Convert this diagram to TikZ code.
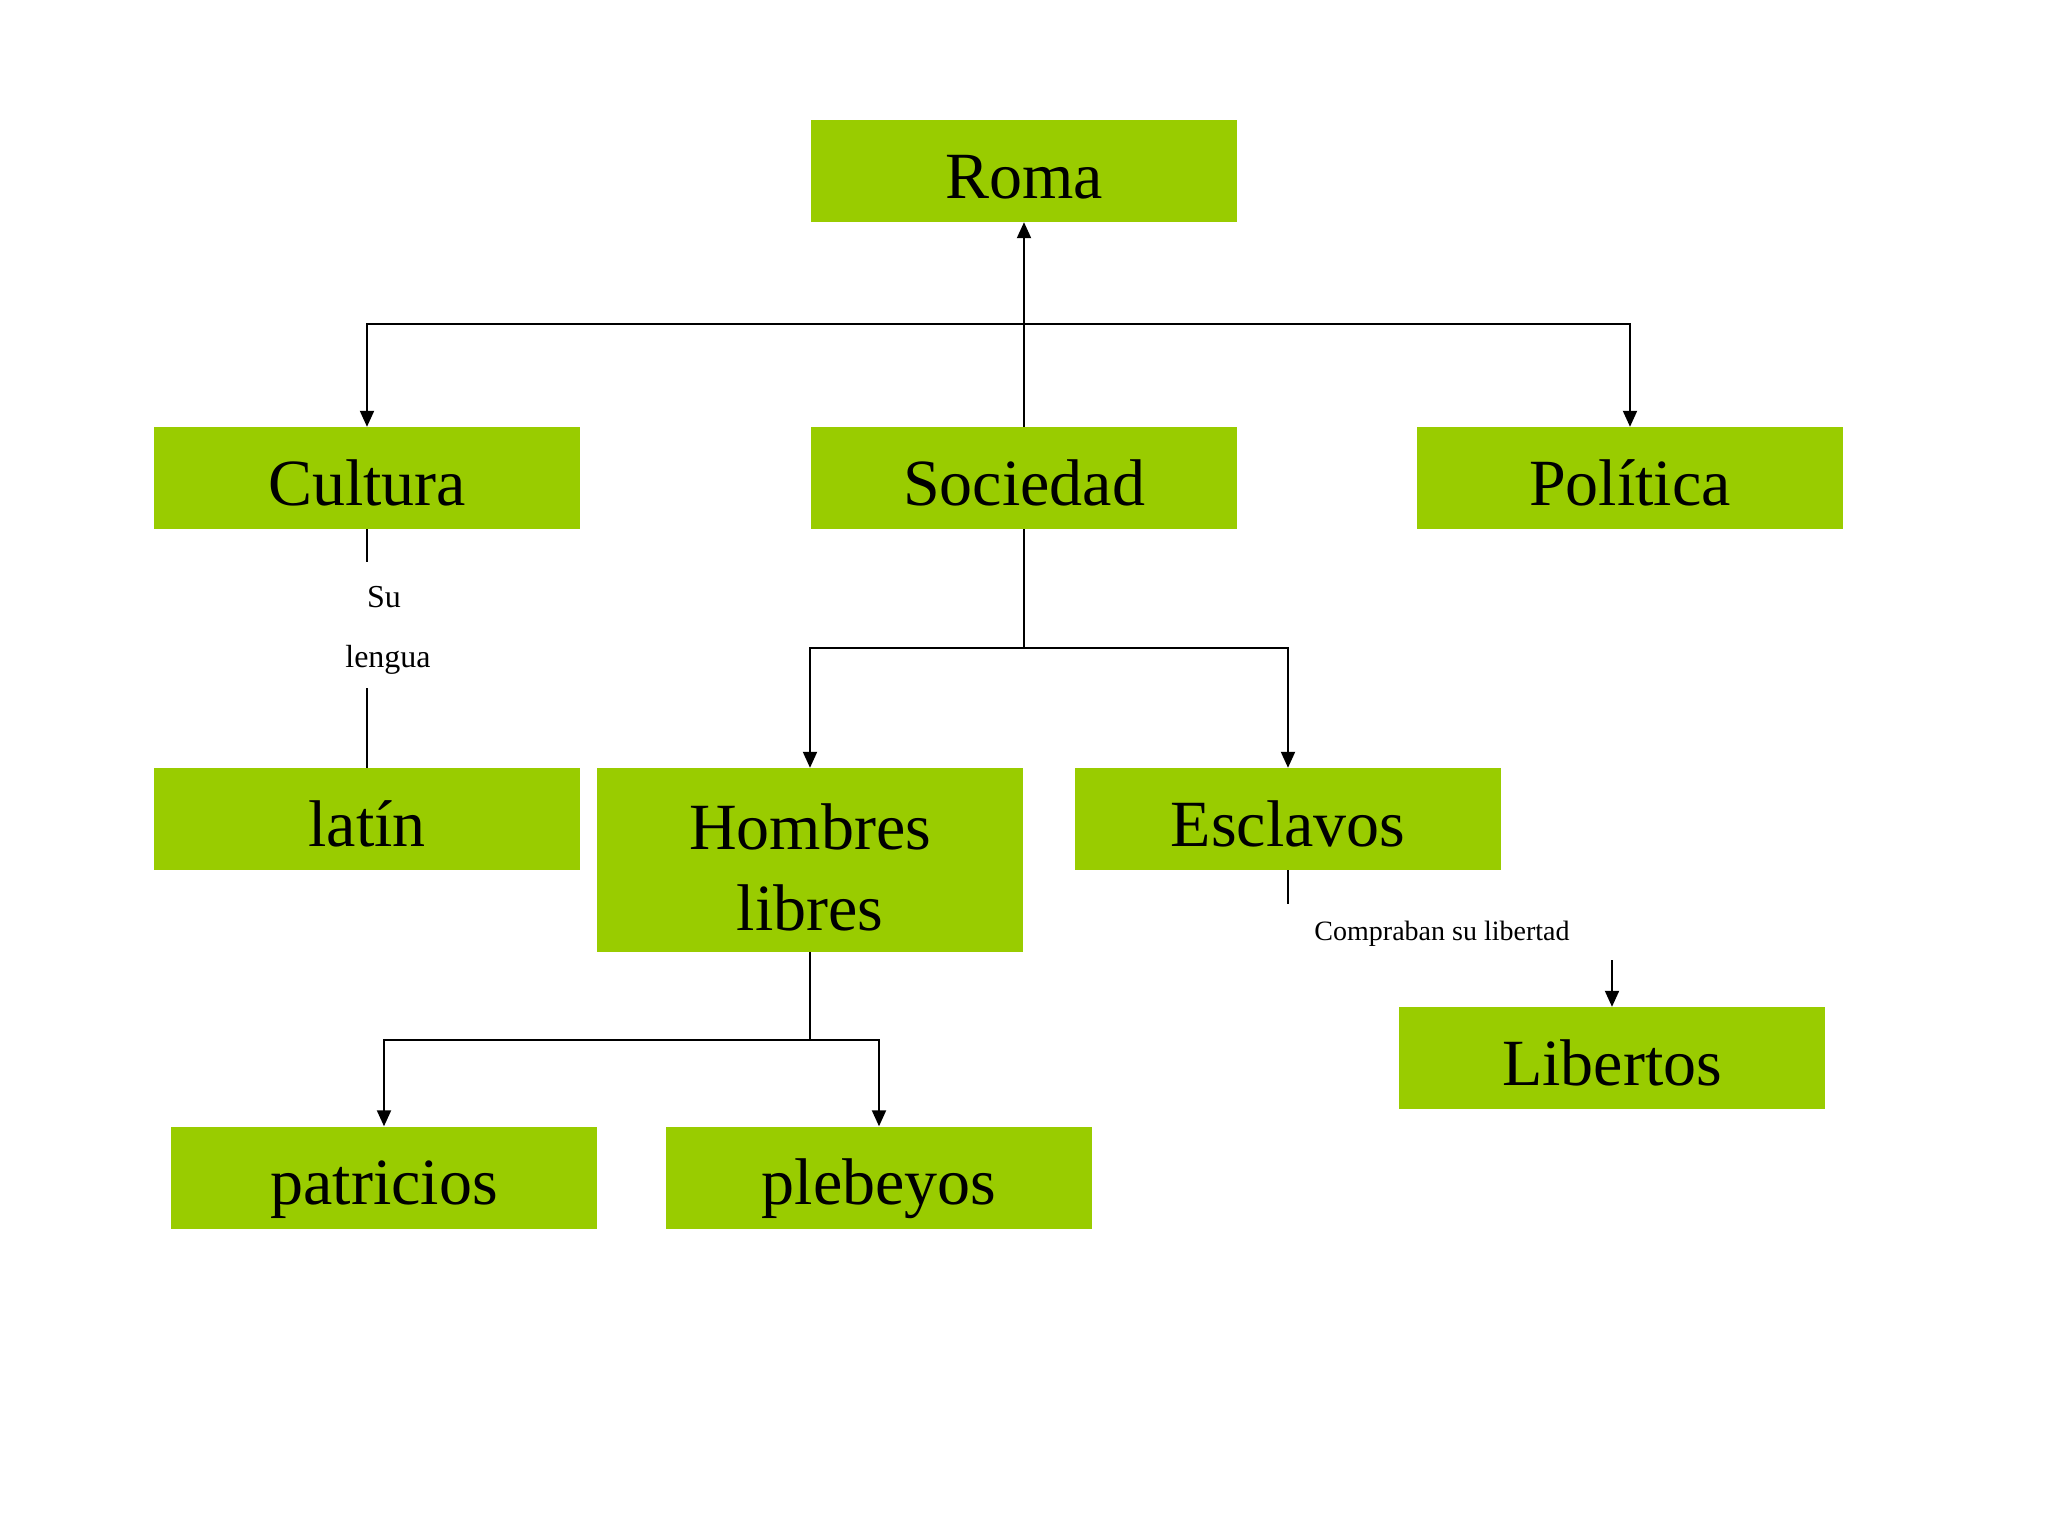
\documentclass[tikz,border=0pt]{standalone}
\usepackage{fontspec}
\setmainfont{Liberation Serif}
\usetikzlibrary{arrows.meta}
\definecolor{boxgreen}{HTML}{99CC00}
\begin{document}
\begin{tikzpicture}[x=1pt,y=-1pt,
  box/.style={fill=boxgreen, draw=none, minimum width=426pt, minimum height=102pt, inner sep=0pt,
    font=\fontsize{66}{81}\selectfont, text height=66pt, text depth=12pt},
  tallbox/.style={fill=boxgreen, draw=none, minimum width=426pt, minimum height=184pt, inner sep=0pt,
    font=\fontsize{66}{81}\selectfont, align=center, text height=140pt, text depth=0pt},
  conn/.style={line width=2pt, draw=black},
  arr/.style={conn, -{Triangle[length=16pt,width=14pt]}},
  lbl/.style={font=\fontsize{32}{38}\selectfont, inner sep=0pt},
  smalllbl/.style={font=\fontsize{28}{34}\selectfont, inner sep=0pt}]
\useasboundingbox[fill=white] (0,0) rectangle (2048,1536);

\node[box] (roma) at (1024,171) {Roma};
\node[box] (cultura) at (367,478) {Cultura};
\node[box] (sociedad) at (1024,478) {Sociedad};
\node[box] (politica) at (1630,478) {Política};
\node[box] (latin) at (367,819) {latín};
\node[tallbox] (hombres) at (810,860) {Hombres\\libres};
\node[box] (esclavos) at (1288,819) {Esclavos};
\node[box] (libertos) at (1612,1058) {Libertos};
\node[box] (patricios) at (384,1177.5) {patricios};
\node[box] (plebeyos) at (879,1177.5) {plebeyos};

% Sociedad -> Roma, branches to Cultura and Política
\coordinate (j1) at (1024,324);
\draw[arr] (sociedad.north) -- (roma.south);
\draw[arr] (j1) -| (cultura.north);
\draw[arr] (j1) -| (politica.north);

% Sociedad -> Hombres libres / Esclavos
\coordinate (j2) at (1024,648);
\draw[conn] (sociedad.south) -- (j2);
\draw[arr] (j2) -| (hombres.north);
\draw[arr] (j2) -| (esclavos.north);

% Hombres libres -> patricios / plebeyos
\coordinate (j3) at (810,1040);
\draw[conn] (hombres.south) -- (j3);
\draw[arr] (j3) -| (patricios.north);
\draw[arr] (j3) -| (plebeyos.north);

% Cultura -- latín with label
\coordinate (c1) at (367,562);
\coordinate (c2) at (367,688);
\draw[conn] (cultura.south) -- (c1);
\draw[conn] (c2) -- (latin.north);
\node[lbl] (su) at (384,597) {Su};
\node[lbl] (lengua) at (388,660) {lengua};

% Esclavos -> Libertos with label
\coordinate (e1) at (1288,904);
\coordinate (e2) at (1612,960);
\draw[conn] (esclavos.south) -- (e1);
\node[smalllbl] (compraban) at (1442,934) {Compraban su libertad};
\draw[arr] (e2) -- (libertos.north);
\end{tikzpicture}
\end{document}
